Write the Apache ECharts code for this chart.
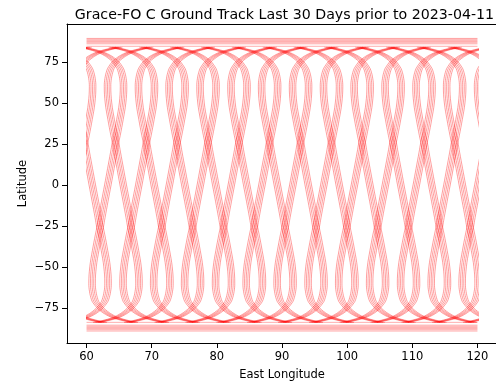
<!DOCTYPE html>
<html>
<head>
<meta charset="utf-8">
<script src="https://cdn.jsdelivr.net/npm/echarts@6/dist/echarts.min.js"></script>
<style>
  html, body { margin: 0; padding: 0; background: #fff; }
  #chart { width: 496px; height: 382px; }
</style>
</head>
<body>
<div id="chart"></div>
<script>
const titleText = 'Grace-FO C Ground Track Last 30 Days prior to 2023-04-11'
const lonTicks = [60, 70, 80, 90, 100, 110, 120]
const latTicks = [-75, -50, -25, 0, 25, 50, 75]

// longitude of each northern crossing (the X near lat 26)
const crossLon = [55.0, 59.7, 64.45, 69.2, 73.9, 78.65, 83.4, 88.1, 92.85, 97.6, 102.3, 107.05, 111.8, 116.5, 121.25]

// one pass: latitude and longitude offset from its crossing
const trackLat = [-84, -83, -82, -81, -80, -79, -78, -76, -75, -72, -70, -65, -60, -50, -40, -30, -26, -20, -10,
  0, 10, 20, 26, 30, 40, 50, 60, 65, 70, 72, 75, 76, 78, 79, 80, 81, 82, 83, 84]
const riseLon = [-2.95, -1.75, -0.75, 0.05, 0.6, 1.05, 1.45, 2.1, 2.35, 2.95, 3.2, 3.5, 3.6, 3.45, 3.05, 2.58, 2.37, 2.11, 1.65,
  1.18, 0.72, 0.26, 0, -0.21, -0.68, -1.08, -1.23, -1.13, -0.83, -0.58, -0.05, 0.2, 0.85, 1.25, 1.72, 2.3, 3.05, 4.05, 5.3]
const setLon = [2.95, 1.75, 0.75, -0.05, -0.6, -1.05, -1.45, -2.1, -2.35, -2.95, -3.2, -3.5, -3.6, -3.45, -3.05, -2.58, -2.37, -2.11, -1.65,
  -1.18, -0.72, -0.26, 0, 0.21, 0.68, 1.08, 1.23, 1.13, 0.83, 0.58, 0.05, -0.2, -0.85, -1.25, -1.72, -2.3, -3.05, -4.05, -5.3]

// each band is a bundle of passes a little apart
const spreadLon = [-0.5, -0.25, 0, 0.25, 0.5]

// horizontal smear near the poles
const capLat = [84.6, 86.1, 86.8, 87.5, 88.2, 88.9, 89.4, -83.9, -85.6, -86.3, -87.0, -87.7, -88.4, -89.2]
const capLon = [60, 120]

const font = 'DejaVu Sans'
const red = 'rgba(255,0,0,0.38)'

const chart = echarts.init(document.getElementById('chart'), null, { renderer: 'canvas' })

const series = []
crossLon.forEach((c) => {
  spreadLon.forEach((d) => {
    ;[riseLon, setLon].forEach((offs) => {
      series.push({
        type: 'line',
        xAxisIndex: 1,
        yAxisIndex: 1,
        showSymbol: false,
        smooth: 0.4,
        silent: true,
        lineStyle: { color: red, width: 1 },
        data: trackLat.map((lat, i) => [c + d + offs[i], lat])
      })
    })
  })
})
capLat.forEach((lat) => {
  series.push({
    type: 'line',
    xAxisIndex: 1,
    yAxisIndex: 1,
    showSymbol: false,
    silent: true,
    lineStyle: { color: 'rgba(255,0,0,0.32)', width: 1 },
    data: capLon.map((lon) => [lon, lat])
  })
})

const tickStyle = { color: '#000', width: 1 }
const minus = (v) => String(v).replace('-', '\u2212')

chart.setOption({
  animation: false,
  title: {
    text: titleText,
    left: 279.5,
    top: 3,
    textAlign: 'center',
    textStyle: { fontFamily: font, fontSize: 14.2, fontWeight: 'normal', color: '#000' }
  },
  grid: [
    { left: 67, top: 24, width: 430, height: 319, outerBoundsMode: 'none' },
    { left: 67 + (3 * 430) / 66, top: 24, width: (60 * 430) / 66, height: 319, outerBoundsMode: 'none' }
  ],
  xAxis: [
    {
      gridIndex: 0,
      type: 'value',
      min: 57,
      max: 123,
      name: 'East Longitude',
      nameLocation: 'middle',
      nameGap: 26,
      nameMoveOverlap: false,
      nameTextStyle: { fontFamily: font, fontSize: 11.5, color: '#000' },
      axisLine: { onZero: false, lineStyle: tickStyle },
      axisTick: { customValues: lonTicks, length: 5, lineStyle: tickStyle },
      axisLabel: { customValues: lonTicks, margin: 8, fontFamily: font, fontSize: 11.5, color: '#000', formatter: minus },
      splitLine: { show: false }
    },
    { gridIndex: 1, type: 'value', min: 60, max: 120, show: false },
    {
      // top spine
      gridIndex: 0,
      type: 'value',
      position: 'top',
      min: 57,
      max: 123,
      axisLine: { onZero: false, lineStyle: tickStyle },
      axisTick: { show: false },
      axisLabel: { show: false },
      splitLine: { show: false }
    }
  ],
  yAxis: [
    {
      gridIndex: 0,
      type: 'value',
      min: -96.5,
      max: 98.2,
      name: 'Latitude',
      nameLocation: 'middle',
      nameGap: 38,
      nameMoveOverlap: false,
      nameTextStyle: { fontFamily: font, fontSize: 11.5, color: '#000' },
      axisLine: { show: true, onZero: false, lineStyle: tickStyle },
      axisTick: { show: true, customValues: latTicks, length: 5, lineStyle: tickStyle },
      axisLabel: { customValues: latTicks, margin: 8, fontFamily: font, fontSize: 11.5, color: '#000', formatter: minus },
      splitLine: { show: false }
    },
    { gridIndex: 1, type: 'value', min: -96.5, max: 98.2, show: false }
  ],
  series
})
</script>
</body>
</html>
